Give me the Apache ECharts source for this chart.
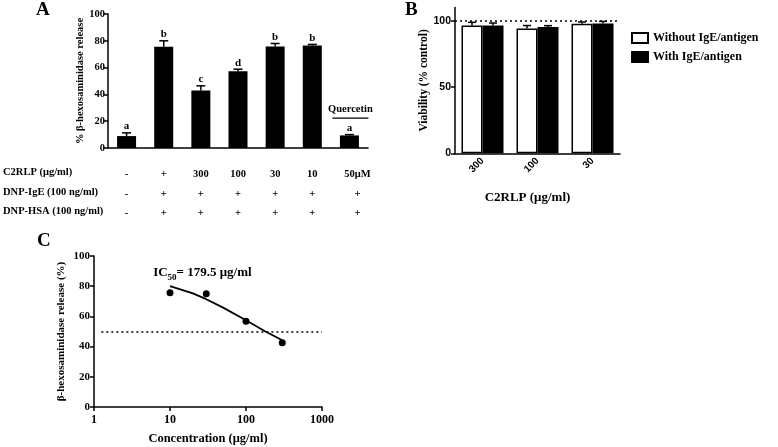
<!DOCTYPE html>
<html><head><meta charset="utf-8">
<script src="https://cdn.jsdelivr.net/npm/echarts@6/dist/echarts.min.js"></script>
<style>html,body{margin:0;padding:0;background:#fff}#c{width:778px;height:447px}</style>
</head><body><div id="c"></div>
<script>
// ---------- Panel A ----------
const groupsA = ['ctrl', 'IgE/Ag', 'C2RLP300', 'C2RLP100', 'C2RLP30', 'C2RLP10', 'Quercetin'];
const valuesA = [8.9, 75.5, 43.0, 57.3, 75.8, 76.5, 9.4];
const errA = [2.4, 4.5, 3.4, 1.5, 2.2, 0.8, 0.6];
const lettersA = ['a', 'b', 'c', 'd', 'b', 'b', 'a'];
const rowLabels = ['C2RLP (μg/ml)', 'DNP-IgE (100 ng/ml)', 'DNP-HSA (100 ng/ml)'];
const rowC2RLP = ['-', '+', '300', '100', '30', '10', '50μM'];
const rowIgE = ['-', '+', '+', '+', '+', '+', '+'];
const rowHSA = ['-', '+', '+', '+', '+', '+', '+'];
const quercetinLabel = 'Quercetin';
// ---------- Panel B ----------
const categoriesB = ['300', '100', '30'];
const withoutB = [96.5, 94.2, 97.8];
const withoutErrB = [2.3, 2.2, 1.3];
const withB = [96.5, 95.3, 98.0];
const withErrB = [1.8, 1.0, 1.5];
const ticksB = [0, 50, 100];
const refB = 100;
// ---------- Panel C ----------
const concC = [10, 30, 100, 300];
const releaseC = [75.7, 75.0, 56.8, 42.6];
const fitConc = [10, 20, 30, 50, 100, 180, 300];
const fitRelease = [80.1, 75.2, 71.4, 65.8, 57.4, 50.0, 44.2];
const refC = { y: 50, from: 1.25, to: 1000 };
const ic50Text = ['IC', '50', '= 179.5 μg/ml'];

const SERIF = '"Liberation Serif","Times New Roman",serif';
const SANS = '"Liberation Sans",Arial,sans-serif';
const black = '#000';

function errRender(offsetPx, capHalf, withLetters, letters) {
  return function (params, api) {
    const i = api.value(0);
    const top = api.value(1);
    const errTop = api.value(2);
    const p0 = api.coord([i, top]);
    const p1 = api.coord([i, errTop]);
    const x = p0[0] + offsetPx;
    const children = [
      { type: 'line', shape: { x1: x, y1: p0[1], x2: x, y2: p1[1] }, style: { stroke: black, lineWidth: 1.5 } },
      { type: 'line', shape: { x1: x - capHalf, y1: p1[1], x2: x + capHalf, y2: p1[1] }, style: { stroke: black, lineWidth: 1.5 } }
    ];
    if (withLetters) {
      children.push({ type: 'text', style: { text: letters[params.dataIndex], x: x, y: p1[1] - 1, align: 'center', verticalAlign: 'bottom', font: 'bold 11px ' + SERIF, fill: black } });
    }
    return { type: 'group', children };
  };
}

const chart = echarts.init(document.getElementById('c'), null, { renderer: 'canvas' });

const axisLineStyle = { color: black, width: 1.5 };
const option = {
  animation: false,
  backgroundColor: '#fff',
  grid: [
    { left: 108, top: 14, width: 260, height: 134 },
    { left: 455, top: 7.5, width: 165, height: 145.8 },
    { left: 94, top: 256, width: 228, height: 151 }
  ],
  xAxis: [
    {
      gridIndex: 0, type: 'category',
      data: groupsA.map((g, i) => i === groupsA.length - 1 ? { value: g, textStyle: { padding: [0, 0, 0, 16] } } : g),
      axisLine: { lineStyle: axisLineStyle }, axisTick: { show: false },
      axisLabel: {
        margin: 17, lineHeight: 19.5, fontFamily: SERIF, fontWeight: 'bold', fontSize: 10.5, color: black,
        formatter: (v, idx) => rowC2RLP[idx] + '\n' + rowIgE[idx] + '\n' + rowHSA[idx]
      }
    },
    {
      gridIndex: 1, type: 'category', data: categoriesB,
      axisLine: { lineStyle: axisLineStyle },
      axisTick: { alignWithLabel: true, length: 4, lineStyle: { color: black, width: 1.5 } },
      axisLabel: { rotate: 45, margin: 6, fontFamily: SANS, fontWeight: 'bold', fontSize: 10, color: black },
      name: 'C2RLP (μg/ml)', nameLocation: 'middle', nameGap: 38,
      nameTextStyle: { fontFamily: SERIF, fontWeight: 'bold', fontSize: 13, color: black, padding: [0, 20, 0, 0] }
    },
    {
      gridIndex: 2, type: 'log', logBase: 10, min: 1, max: 1000,
      axisLine: { lineStyle: axisLineStyle },
      axisTick: { length: 4, lineStyle: { color: black, width: 1.5 } },
      minorTick: { show: false }, splitLine: { show: false },
      axisLabel: { margin: 7, fontFamily: SERIF, fontWeight: 'bold', fontSize: 12, color: black, formatter: v => String(v) },
      name: 'Concentration (μg/ml)', nameLocation: 'middle', nameGap: 25,
      nameTextStyle: { fontFamily: SERIF, fontWeight: 'bold', fontSize: 12.5, color: black }
    }
  ],
  yAxis: [
    {
      gridIndex: 0, type: 'value', min: 0, max: 100, interval: 20,
      axisLine: { show: true, lineStyle: axisLineStyle },
      axisTick: { show: true, length: 4, lineStyle: { color: black, width: 1.5 } },
      splitLine: { show: false },
      axisLabel: { margin: 3, fontFamily: SERIF, fontWeight: 'bold', fontSize: 10.5, color: black },
      name: '% β-hexosaminidase release', nameLocation: 'middle', nameGap: 22,
      nameTextStyle: { fontFamily: SERIF, fontWeight: 'bold', fontSize: 10.5, color: black }
    },
    {
      gridIndex: 1, type: 'value', min: 0, max: 110,
      axisLine: { show: true, lineStyle: axisLineStyle },
      axisTick: { show: true, length: 4, customValues: ticksB, lineStyle: { color: black, width: 1.5 } },
      splitLine: { show: false },
      axisLabel: { customValues: ticksB, margin: 4, fontFamily: SANS, fontWeight: 'bold', fontSize: 10.5, color: black },
      name: 'Viability (% control)', nameLocation: 'middle', nameGap: 24,
      nameTextStyle: { fontFamily: SERIF, fontWeight: 'bold', fontSize: 11.5, color: black }
    },
    {
      gridIndex: 2, type: 'value', min: 0, max: 100, interval: 20,
      axisLine: { show: true, lineStyle: axisLineStyle },
      axisTick: { show: true, length: 4, lineStyle: { color: black, width: 1.5 } },
      splitLine: { show: false },
      axisLabel: { margin: 4, fontFamily: SERIF, fontWeight: 'bold', fontSize: 11, color: black },
      name: 'β-hexosaminidase release (%)', nameLocation: 'middle', nameGap: 27,
      nameTextStyle: { fontFamily: SERIF, fontWeight: 'bold', fontSize: 11, color: black }
    }
  ],
  legend: {
    orient: 'vertical', left: 626, top: 27, itemWidth: 16, itemHeight: 10, itemGap: 7, icon: 'rect',
    data: ['Without IgE/antigen', 'With IgE/antigen'],
    textStyle: { fontFamily: SERIF, fontWeight: 'bold', fontSize: 12, color: black }
  },
  series: [
    {
      type: 'bar', xAxisIndex: 0, yAxisIndex: 0, data: valuesA, barWidth: 19,
      itemStyle: { color: black }
    },
    {
      type: 'custom', xAxisIndex: 0, yAxisIndex: 0,
      data: valuesA.map((v, i) => [i, v, v + errA[i]]),
      renderItem: errRender(0, 4.5, true, lettersA), z: 5
    },
    {
      name: 'Without IgE/antigen', type: 'bar', xAxisIndex: 1, yAxisIndex: 1, data: withoutB,
      barWidth: 21, barGap: '0%',
      itemStyle: { color: '#fff', borderColor: black, borderWidth: 1.5 },
      markLine: {
        silent: true, symbol: 'none', label: { show: false },
        lineStyle: { color: black, type: [2, 3], width: 1.5 },
        data: [{ yAxis: refB }]
      }
    },
    {
      name: 'With IgE/antigen', type: 'bar', xAxisIndex: 1, yAxisIndex: 1, data: withB,
      barWidth: 21, barGap: '0%',
      itemStyle: { color: black, borderColor: black, borderWidth: 1.5 }
    },
    {
      type: 'custom', xAxisIndex: 1, yAxisIndex: 1,
      data: withoutB.map((v, i) => [i, v, v + withoutErrB[i]]),
      renderItem: errRender(-10.5, 4, false), z: 5
    },
    {
      type: 'custom', xAxisIndex: 1, yAxisIndex: 1,
      data: withB.map((v, i) => [i, v, v + withErrB[i]]),
      renderItem: errRender(10.5, 4, false), z: 5
    },
    {
      type: 'scatter', xAxisIndex: 2, yAxisIndex: 2,
      data: concC.map((c, i) => [c, releaseC[i]]),
      symbolSize: 7, itemStyle: { color: black, opacity: 1 }
    },
    {
      type: 'line', xAxisIndex: 2, yAxisIndex: 2, smooth: false, showSymbol: false,
      data: fitConc.map((c, i) => [c, fitRelease[i]]),
      lineStyle: { color: black, width: 1.8 },
      markLine: {
        silent: true, symbol: 'none', label: { show: false },
        lineStyle: { color: black, type: [2, 3], width: 1.5 },
        data: [[{ coord: [refC.from, refC.y] }, { coord: [refC.to, refC.y] }]]
      }
    }
  ],
  graphic: []
};
chart.setOption(option);

// annotations placed relative to the axes
const graphics = [];
rowLabels.forEach((t, k) => {
  graphics.push({ type: 'text', left: 3, top: 167 + k * 19.5, style: { text: t, font: 'bold 10.5px ' + SERIF, fill: black } });
});
graphics.push({ type: 'text', left: 36, top: 1, style: { text: 'A', font: 'bold 19px ' + SERIF, fill: black } });
graphics.push({ type: 'text', left: 405, top: 1, style: { text: 'B', font: 'bold 19px ' + SERIF, fill: black } });
graphics.push({ type: 'text', left: 37, top: 232, style: { text: 'C', font: 'bold 19px ' + SERIF, fill: black } });
// Quercetin bracket above last bar
const qi = groupsA.length - 1;
const qp = chart.convertToPixel({ xAxisIndex: 0, yAxisIndex: 0 }, [qi, 23]);
graphics.push({ type: 'line', shape: { x1: qp[0] - 17, y1: qp[1] + 1, x2: qp[0] + 19, y2: qp[1] + 1 }, style: { stroke: black, lineWidth: 1.2 } });
graphics.push({ type: 'text', x: qp[0] + 1, y: qp[1] - 2, style: { text: quercetinLabel, align: 'center', verticalAlign: 'bottom', font: 'bold 10.5px ' + SERIF, fill: black } });
// IC50 annotation
const ip = chart.convertToPixel({ xAxisIndex: 2, yAxisIndex: 2 }, [6, 89]);
graphics.push({
  type: 'text', x: ip[0], y: ip[1],
  style: {
    text: '{a|' + ic50Text[0] + '}{s|' + ic50Text[1] + '}{a|' + ic50Text[2] + '}',
    verticalAlign: 'middle',
    rich: {
      a: { font: 'bold 13px ' + SERIF, fill: black, verticalAlign: 'bottom' },
      s: { font: 'bold 9px ' + SERIF, fill: black, verticalAlign: 'bottom', padding: [0, 0, -3, 0] }
    }
  }
});
chart.setOption({ graphic: graphics });
</script>
</body></html>
